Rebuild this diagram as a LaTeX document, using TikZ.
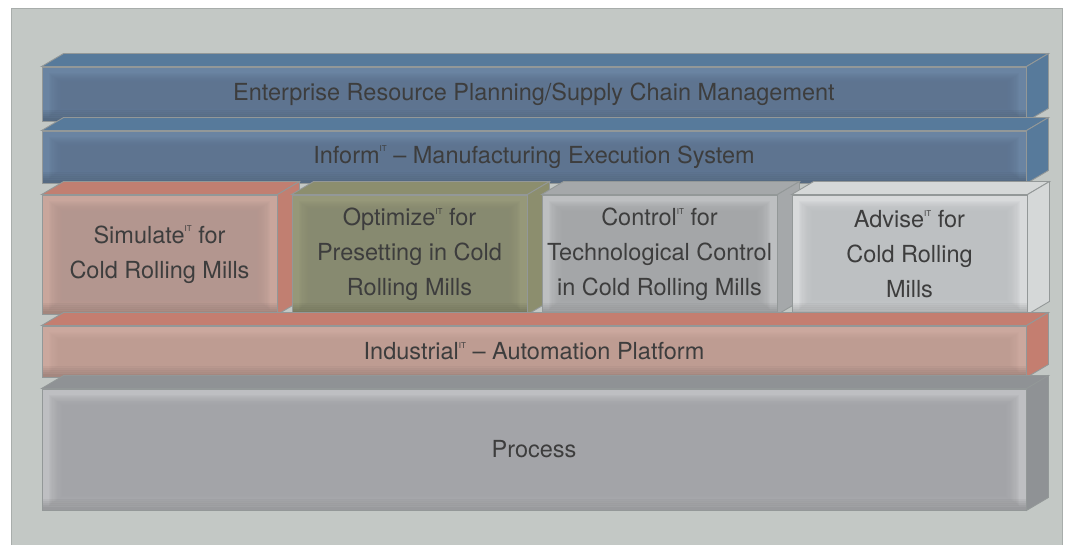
\documentclass[tikz,border=0pt]{standalone}
\usepackage{fontspec}
\setmainfont{TeX Gyre Heros}
\usetikzlibrary{positioning,calc}

\definecolor{panelbg}{HTML}{C3C8C5}
\definecolor{panelline}{HTML}{A8ADAB}
\definecolor{edgegray}{HTML}{939898}
\definecolor{textgray}{HTML}{3D3D3D}
\definecolor{bluefront}{HTML}{6A84A2}
\definecolor{bluemid}{HTML}{5E7490}
\definecolor{bluetop}{HTML}{577A9B}
\definecolor{simfront}{HTML}{C9A69C}
\definecolor{simmid}{HTML}{B3968F}
\definecolor{simface}{HTML}{C17F71}
\definecolor{optfront}{HTML}{969879}
\definecolor{optmid}{HTML}{878A70}
\definecolor{optface}{HTML}{8C8E6E}
\definecolor{ctlfront}{HTML}{BDBFC1}
\definecolor{ctlmid}{HTML}{A3A5A8}
\definecolor{ctlface}{HTML}{A5A8AA}
\definecolor{advfront}{HTML}{D8DADB}
\definecolor{advmid}{HTML}{BCBFC1}
\definecolor{advface}{HTML}{D5D8D8}
\definecolor{indfront}{HTML}{CBA89E}
\definecolor{indmid}{HTML}{BE9C92}
\definecolor{indface}{HTML}{C47E70}
\definecolor{procfront}{HTML}{BEBFC2}
\definecolor{procmid}{HTML}{A2A3A7}
\definecolor{proctop}{HTML}{8F9295}

\newcommand{\itmark}{\raisebox{0.48em}{\fontsize{8}{8}\selectfont IT}}

\begin{document}
\begin{tikzpicture}[x=1pt,y=1pt,
    edge/.style={draw=edgegray, line width=0.9pt},
    face/.style={edge, fill=#1},
    slab/.style 2 args={edge, fill=#1, text=textgray, inner sep=0pt, align=center,
      path picture={
        \foreach \k in {0,...,11}
          \fill[#2, opacity=0.15]
            ($(path picture bounding box.south west)+(20-1.2*\k,14-0.9*\k)$) rectangle
            ($(path picture bounding box.north east)-(20-1.2*\k,16-0.9*\k)$);
        \foreach \k in {0,...,4}
          \fill[black, opacity=0.04]
            (path picture bounding box.south west) rectangle
            ($(path picture bounding box.south east)+(0,3+2*\k)$);
      }},
    barfont/.style={font=\fontsize{23.5}{28}\selectfont},
    modfont/.style={font=\fontsize{23.5}{35}\selectfont}]

    % panel
    \useasboundingbox (0,0) rectangle (1071,544);
    \fill[white] (0,0) rectangle (1071,544);
    \draw[fill=panelbg, draw=panelline, line width=1pt] (11,-2) rectangle (1062,535);

    % ERP / SCM
    \node[slab={bluefront}{bluemid}, barfont, minimum width=984pt, minimum height=54pt] (erp) at (534,450)
        {Enterprise Resource Planning/Supply Chain Management};
    \draw[face=bluetop] (erp.north west) -- ++(22,13) -- ($(erp.north east)+(22,13)$) -- (erp.north east) -- cycle;
    \draw[face=bluetop] (erp.north east) -- ++(22,13) -- ($(erp.south east)+(22,13)$) -- (erp.south east) -- cycle;

    % MES
    \node[slab={bluefront}{bluemid}, barfont, minimum width=984pt, minimum height=52pt] (mes) at (534,387)
        {Inform\itmark{} -- Manufacturing Execution System};
    \draw[face=bluetop] (mes.north west) -- ++(22,13) -- ($(mes.north east)+(22,13)$) -- (mes.north east) -- cycle;
    \draw[face=bluetop] (mes.north east) -- ++(22,13) -- ($(mes.south east)+(22,13)$) -- (mes.south east) -- cycle;

    % Simulate
    \node[slab={simfront}{simmid}, modfont, minimum width=235pt, minimum height=119pt] (sim) at (159.5,289.5)
        {Simulate\itmark{} for\\Cold Rolling Mills};
    \draw[face=simface] (sim.north west) -- ++(22,13) -- ($(sim.north east)+(22,13)$) -- (sim.north east) -- cycle;
    \draw[face=simface] (sim.north east) -- ++(22,13) -- ($(sim.south east)+(22,13)$) -- (sim.south east) -- cycle;

    % Optimize
    \node[slab={optfront}{optmid}, modfont, minimum width=235pt, minimum height=119pt] (opt) at (409.5,289.5)
        {Optimize\itmark{} for\\Presetting in Cold\\Rolling Mills};
    \draw[face=optface] (opt.north west) -- ++(22,13) -- ($(opt.north east)+(22,13)$) -- (opt.north east) -- cycle;
    \draw[face=optface] (opt.north east) -- ++(22,13) -- ($(opt.south east)+(22,13)$) -- (opt.south east) -- cycle;

    % Control
    \node[slab={ctlfront}{ctlmid}, modfont, minimum width=235pt, minimum height=119pt] (ctl) at (659.5,289.5)
        {Control\itmark{} for\\Technological Control\\in Cold Rolling Mills};
    \draw[face=ctlface] (ctl.north west) -- ++(22,13) -- ($(ctl.north east)+(22,13)$) -- (ctl.north east) -- cycle;
    \draw[face=ctlface] (ctl.north east) -- ++(22,13) -- ($(ctl.south east)+(22,13)$) -- (ctl.south east) -- cycle;

    % Advise
    \node[slab={advfront}{advmid}, modfont, minimum width=235pt, minimum height=119pt] (adv) at (909.5,289.5)
        {Advise\itmark{} for\\Cold Rolling\\Mills};
    \draw[face=advface] (adv.north west) -- ++(22,13) -- ($(adv.north east)+(22,13)$) -- (adv.north east) -- cycle;
    \draw[face=advface] (adv.north east) -- ++(22,13) -- ($(adv.south east)+(22,13)$) -- (adv.south east) -- cycle;

    % Automation platform
    \node[slab={indfront}{indmid}, barfont, minimum width=984pt, minimum height=51pt] (ind) at (534,192.5)
        {Industrial\itmark{} -- Automation Platform};
    \draw[face=indface] (ind.north west) -- ++(22,13) -- ($(ind.north east)+(22,13)$) -- (ind.north east) -- cycle;
    \draw[face=indface] (ind.north east) -- ++(22,13) -- ($(ind.south east)+(22,13)$) -- (ind.south east) -- cycle;

    % Process
    \node[slab={procfront}{procmid}, barfont, minimum width=984pt, minimum height=121pt] (proc) at (534,94.5)
        {Process};
    \draw[face=proctop] (proc.north west) -- ++(22,13) -- ($(proc.north east)+(22,13)$) -- (proc.north east) -- cycle;
    \draw[face=proctop] (proc.north east) -- ++(22,13) -- ($(proc.south east)+(22,13)$) -- (proc.south east) -- cycle;
\end{tikzpicture}
\end{document}
